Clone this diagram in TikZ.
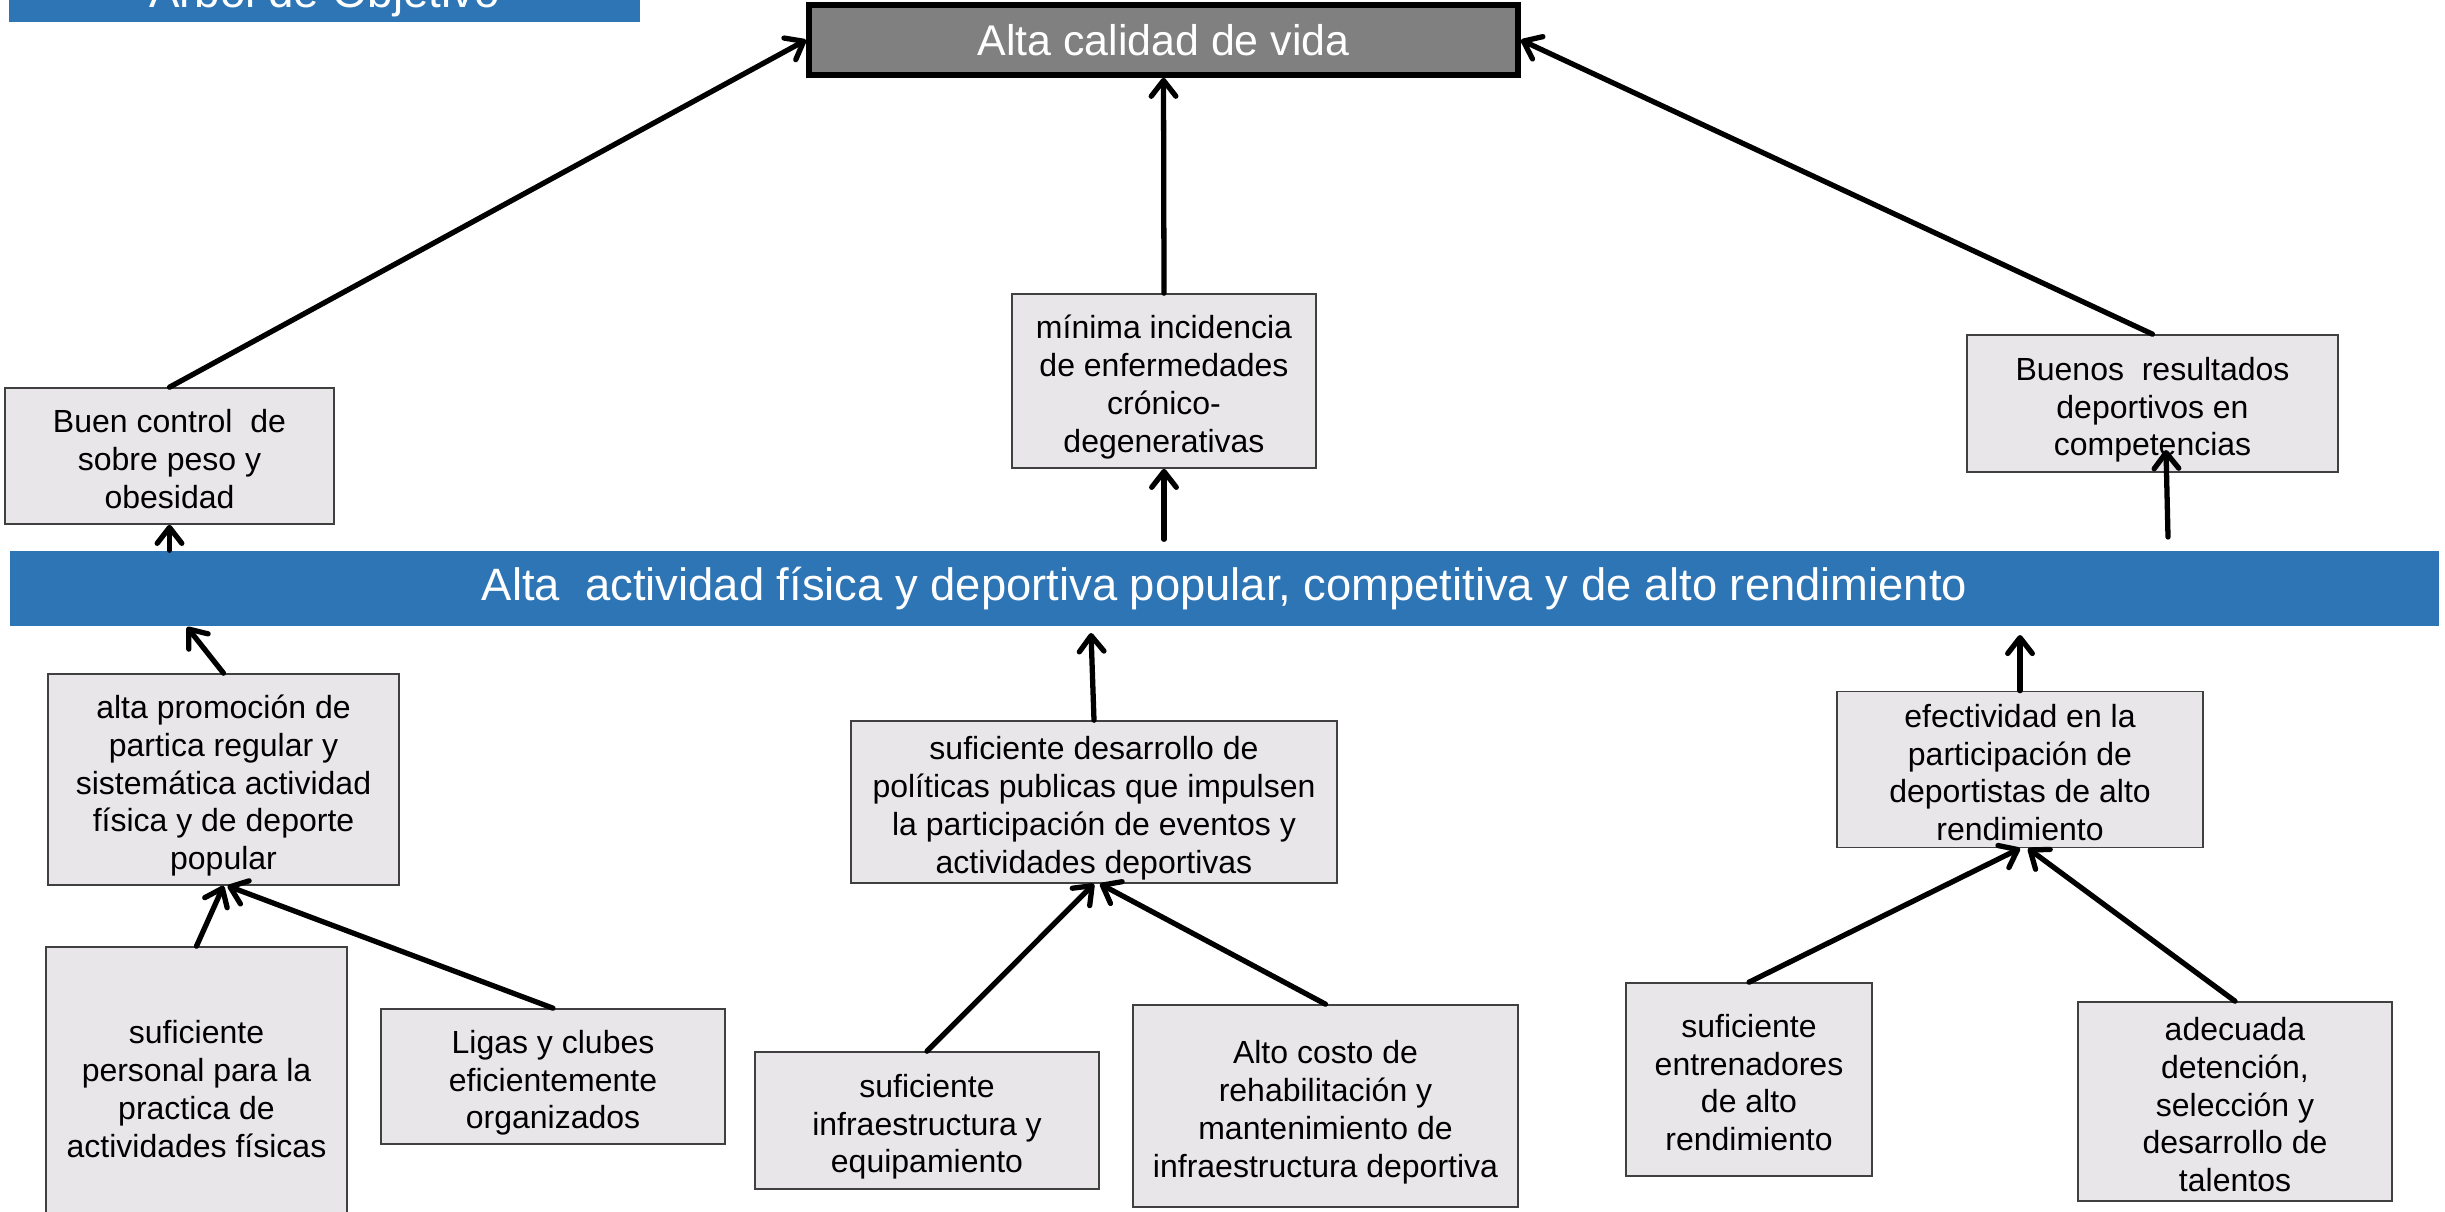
\documentclass[tikz,border=0pt]{standalone}
\usepackage{fontspec}
\setmainfont{Liberation Sans}
\usetikzlibrary{arrows.meta,calc}
\definecolor{boxfill}{HTML}{E8E6E8}
\definecolor{boxline}{HTML}{404040}
\definecolor{bandblue}{HTML}{2E75B6}
\definecolor{topgray}{HTML}{808080}
% line struts: height 8.8pt, depth 1.95pt (sum = baselineskip); first line a bit taller
\newcommand{\ls}{\rule[-1.95pt]{0pt}{10.75pt}}
\newcommand{\fl}{\rule[-1.95pt]{0pt}{12.15pt}}
\begin{document}
\begin{tikzpicture}[x=0.01cm,y=-0.01cm,
  objbox/.style={draw=boxline, line width=0.45pt, fill=boxfill, align=center,
    font=\fontsize{9.1}{10.75}\selectfont, inner sep=0pt},
  arr/.style={line width=1.5pt, line cap=round,
    -{Straight Barb[length=4.5pt,width=7pt,line cap=round,line join=round]}}]
\useasboundingbox (0,0) rectangle (2445,1211);
\clip (0,0) rectangle (2445,1211);

% title
\node[fill=bandblue, minimum width=6.31cm, minimum height=0.8cm, anchor=south, inner sep=0pt] (title) at (324.5,23) {};
\node[anchor=base, text=white, font=\fontsize{13}{15}\selectfont, inner sep=0pt] (titletext) at (324.5,7) {Árbol de Objetivo};

% top goal
\node[draw=black, line width=1.56pt, fill=topgray, minimum width=7.09cm, minimum height=0.70cm,
  text=white, font=\fontsize{12.2}{14}\selectfont, inner sep=0pt] (top) at (1163.5,40) {Alta calidad de vida};

% band
\node[fill=bandblue, minimum width=24.27cm, minimum height=0.75cm, text=white,
  font=\fontsize{12.9}{15}\selectfont, inner sep=0pt] (band) at (1224.5,588.5)
  {Alta\ \ actividad física y deportiva popular, competitiva y de alto rendimiento};

% ends
\node[objbox, minimum width=3.29cm, minimum height=1.36cm] (b1) at (169.5,456)
  {\fl Buen control\ \ de\\\ls sobre peso y\\\ls obesidad};
\node[objbox, minimum width=3.04cm, minimum height=1.74cm] (b2) at (1164,381)
  {\fl mínima incidencia\\\ls de enfermedades\\\ls crónico-\\\ls degenerativas};
\node[objbox, minimum width=3.71cm, minimum height=1.37cm] (b3) at (2152.5,403.5)
  {\fl Buenos\ \ resultados\\\ls deportivos en\\\ls competencias};

% means
\node[objbox, minimum width=3.51cm, minimum height=2.11cm] (b4) at (223.5,779.5)
  {\fl alta promoción de\\\ls partica regular y\\\ls sistemática actividad\\\ls física y de deporte\\\ls popular};
\node[objbox, minimum width=4.86cm, minimum height=1.62cm] (b5) at (1094,802)
  {\fl suficiente desarrollo de\\\ls políticas publicas que impulsen\\\ls la participación de eventos y\\\ls actividades deportivas};
\node[objbox, minimum width=3.66cm, minimum height=1.51cm] (b6) at (2020,769.5)
  {\fl efectividad en la\\\ls participación de\\\ls deportistas de alto\\\ls rendimiento};

% bottom
\node[objbox, minimum width=3.01cm, minimum height=2.78cm] (b7) at (196.5,1086)
  {\fl suficiente\\\ls personal para la\\\ls practica de\\\ls actividades físicas};
\node[objbox, minimum width=3.44cm, minimum height=1.35cm] (b8) at (553,1076.5)
  {\fl Ligas y clubes\\\ls eficientemente\\\ls organizados};
\node[objbox, minimum width=3.44cm, minimum height=1.37cm] (b9) at (927,1120.5)
  {\fl suficiente\\\ls infraestructura y\\\ls equipamiento};
\node[objbox, minimum width=3.85cm, minimum height=2.02cm] (b10) at (1325.5,1106)
  {\fl Alto costo de\\\ls rehabilitación y\\\ls mantenimiento de\\\ls infraestructura deportiva};
\node[objbox, minimum width=2.46cm, minimum height=1.93cm] (b11) at (1749,1079.5)
  {\fl suficiente\\\ls entrenadores\\\ls de alto\\\ls rendimiento};
\node[objbox, minimum width=3.14cm, minimum height=1.99cm] (b12) at (2235,1101.5)
  {\fl adecuada\\\ls detención,\\\ls selección y\\\ls desarrollo de\\\ls talentos};

% free ends
\coordinate (c2s) at ($(b2.south |- band.north)+(0,-11)$);
\coordinate (c3s) at (2168,537);
\coordinate (c3t) at (2166,450);
\coordinate (c4t) at (187,627);
\coordinate (c5t) at (1091,633);
\coordinate (c6t) at (2020,635);

% connectors, upper level
\draw[arr] (b1.north) -- (top.west);
\draw[arr] (b2.north) -- (top.south);
\draw[arr] (b3.north) -- (top.east);
\draw[arr] (b1.south |- band.north) -- (b1.south);
\draw[arr] (c2s) -- (b2.south);
\draw[arr] (c3s) -- (c3t);

% connectors, to band
\draw[arr] (b4.north) -- (c4t);
\draw[arr] (b5.north) -- (c5t);
\draw[arr] (b6.north) -- (c6t);

% connectors, lower level
\draw[arr] (b7.north) -- (b4.south);
\draw[arr] (b8.north) -- ($(b4.south)+(4,0)$);
\draw[arr] (b9.north) -- (b5.south);
\draw[arr] (b10.north) -- ($(b5.south)+(6,0)$);
\draw[arr] (b11.north) -- (b6.south);
\draw[arr] (b12.north) -- ($(b6.south)+(8,0)$);
\end{tikzpicture}
\end{document}
